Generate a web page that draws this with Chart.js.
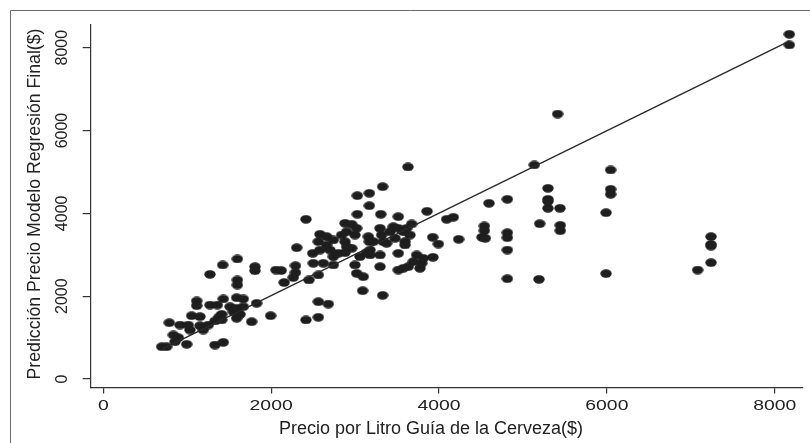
<!DOCTYPE html>
<html>
<head>
<meta charset="utf-8">
<script src="https://cdn.jsdelivr.net/npm/chart.js@4"></script>
<style>
  html, body { margin: 0; padding: 0; background: #fff; }
  #wrap { width: 810px; height: 443px; position: relative; }
</style>
</head>
<body>
<div id="wrap"><canvas id="scatterChart"></canvas></div>
<script>
  // Precio por litro (x) vs prediccion del modelo (y)
  const priceX = [
    696, 755, 786, 835, 855, 894, 914, 994, 1013, 1033, 1053, 1113, 1113, 1152, 1152, 1191, 1251, 1271, 1271, 1331,
    1331, 1359, 1380, 1411, 1411, 1423, 1430, 1430, 1510, 1549, 1589, 1589, 1589, 1597, 1597, 1597, 1629, 1668, 1668, 1768,
    1807, 1807, 1827, 1994, 2058, 2120, 2155, 2264, 2290, 2290, 2305, 2415, 2450, 2415, 2562, 2562, 2681, 2495, 2502, 2562,
    2562, 2582, 2582, 2621, 2662, 2662, 2701, 2741, 2741, 2741, 2800, 2840, 2880, 2880, 2880, 2900, 2900, 2960, 2960, 2999,
    2999, 3019, 3019, 3027, 3027, 3058, 3098, 3090, 3170, 3170, 3158, 3170, 3178, 3178, 3138, 3217, 3297, 3306, 3317, 3336,
    3297, 3297, 3329, 3329, 3376, 3416, 3455, 3476, 3515, 3515, 3515, 3515, 3574, 3574, 3595, 3595, 3615, 3654, 3674, 3694,
    3634, 3734, 3773, 3794, 3813, 3857, 3925, 3928, 3992, 4091, 4170, 4234, 3630, 4540, 4540, 4512, 4552, 4596, 4814, 4814,
    4814, 4814, 4814, 5135, 5191, 5200, 5298, 5298, 5298, 5298, 5414, 5441, 5445, 5445, 5990, 5990, 6045, 6045, 6045, 7082,
    7241, 7241, 7241, 7241, 8174, 8174
  ];
  const predY = [
    780, 780, 1360, 1063, 901, 998, 1304, 838, 1304, 1183, 1529, 1884, 1770, 1505, 1287, 1183, 1304, 1787, 2528, 1401,
    821, 1787, 1500, 1562, 1425, 2753, 1932, 886, 1746, 1625, 1963, 1707, 1466, 2898, 2391, 2270, 1562, 1932, 1746, 1384,
    2713, 2615, 1828, 1529, 2632, 2620, 2330, 2450, 2735, 2570, 3170, 3857, 2391, 1425, 1490, 1867, 1811, 3035, 2794, 3316,
    2512, 3494, 3115, 2794, 3437, 3236, 3115, 3357, 2753, 2954, 3035, 3477, 3760, 3316, 3050, 3557, 3195, 3736, 3156, 3477,
    2753, 3639, 2552, 4427, 3977, 2954, 2470, 2132, 4484, 4185, 3437, 3316, 3115, 2995, 3050, 3316, 3639, 3977, 3477, 3316,
    2995, 2713, 4644, 2021, 3277, 3557, 3678, 3398, 3920, 3639, 3035, 2632, 3557, 2673, 3316, 3236, 3639, 3477, 3743, 2833,
    2713, 2995, 2673, 2794, 2915, 4050, 3422, 2939, 3260, 3857, 3905, 3374, 5120, 3695, 3581, 3422, 3398, 4243, 4340, 3533,
    3412, 3115, 2422, 5168, 2407, 3750, 4605, 4340, 4290, 4122, 6399, 4122, 3712, 3581, 4016, 2545, 5047, 4581, 4460, 2632,
    3437, 3250, 3210, 2809, 8324, 8066
  ];
  const fitX = [696, 8174];
  const fitY = [717, 8160];
  const xTicks = [0, 2000, 4000, 6000, 8000];
  const yTicks = [0, 2000, 4000, 6000, 8000];
  const xTitle = 'Precio por Litro Guía de la Cerveza($)';
  const yTitle = 'Predicción Precio Modelo Regresión Final($)';

  // markers are a bit wider than tall in the original
  const dot = document.createElement('canvas');
  dot.width = 12;
  dot.height = 9;
  const dctx = dot.getContext('2d');
  dctx.fillStyle = '#1e1e1e';
  dctx.beginPath();
  dctx.ellipse(6, 4.5, 5.7, 4.2, 0, 0, Math.PI * 2);
  dctx.fill();

  const points = priceX.map((x, i) => ({ x: x, y: predY[i] }));
  const fitLine = fitX.map((x, i) => ({ x: x, y: fitY[i] }));

  const FONT = '"Liberation Sans", Arial, sans-serif';

  const frameAndLabels = {
    id: 'frameAndLabels',
    beforeDraw(chart) {
      const ctx = chart.ctx;
      ctx.save();
      ctx.strokeStyle = '#6a6a6a';
      ctx.lineWidth = 1;
      ctx.beginPath();
      ctx.moveTo(10.5, 443);
      ctx.lineTo(10.5, 10.5);
      ctx.lineTo(810, 10.5);
      ctx.stroke();
      ctx.restore();
    },
    afterDraw(chart) {
      const ctx = chart.ctx;
      const xs = chart.scales.x;
      const ys = chart.scales.y;
      ctx.save();
      ctx.fillStyle = '#222';
      ctx.textAlign = 'center';
      ctx.textBaseline = 'middle';

      ctx.font = '15.5px ' + FONT;
      xTicks.forEach(v => {
        ctx.save();
        ctx.translate(xs.getPixelForValue(v), 406);
        ctx.scale(1.25, 1);
        ctx.fillText(String(v), 0, 0);
        ctx.restore();
      });

      ctx.font = '16px ' + FONT;
      yTicks.forEach(v => {
        ctx.save();
        ctx.translate(63, ys.getPixelForValue(v));
        ctx.rotate(-Math.PI / 2);
        ctx.fillText(String(v), 0, 0);
        ctx.restore();
      });

      ctx.font = '18px ' + FONT;
      ctx.fillText(xTitle, 431, 429);

      ctx.save();
      ctx.translate(35, 204);
      ctx.rotate(-Math.PI / 2);
      ctx.font = '17.7px ' + FONT;
      ctx.fillText(yTitle, 0, 0);
      ctx.restore();

      ctx.restore();
    }
  };

  new Chart(document.getElementById('scatterChart'), {
    type: 'scatter',
    data: {
      datasets: [
        {
          type: 'line',
          data: fitLine,
          borderColor: '#2a2a2a',
          borderWidth: 1.4,
          pointRadius: 0,
          fill: false,
          order: 0
        },
        {
          data: points,
          pointStyle: dot,
          pointRadius: 4,
          backgroundColor: '#1e1e1e',
          borderWidth: 0,
          order: 1
        }
      ]
    },
    options: {
      responsive: true,
      maintainAspectRatio: false,
      animation: false,
      layout: { padding: { left: 0, right: 7, top: 25, bottom: 0 } },
      plugins: {
        legend: { display: false },
        tooltip: { enabled: false }
      },
      scales: {
        x: {
          type: 'linear',
          min: -150,
          max: 8337,
          afterFit: s => { s.height = 55; },
          afterBuildTicks: s => { s.ticks = xTicks.map(v => ({ value: v })); },
          ticks: { display: false },
          grid: { display: true, drawOnChartArea: false, drawTicks: true, tickLength: 5.5, color: '#333', lineWidth: 1.2 },
          border: { display: true, color: '#333', width: 1.2 }
        },
        y: {
          type: 'linear',
          min: -217,
          max: 8548,
          afterFit: s => { s.width = 90.7; },
          afterBuildTicks: s => { s.ticks = yTicks.map(v => ({ value: v })); },
          ticks: { display: false },
          grid: { display: true, drawOnChartArea: false, drawTicks: true, tickLength: 8, color: '#333', lineWidth: 1.2 },
          border: { display: true, color: '#333', width: 1.2 }
        }
      }
    },
    plugins: [frameAndLabels]
  });
</script>
</body>
</html>
